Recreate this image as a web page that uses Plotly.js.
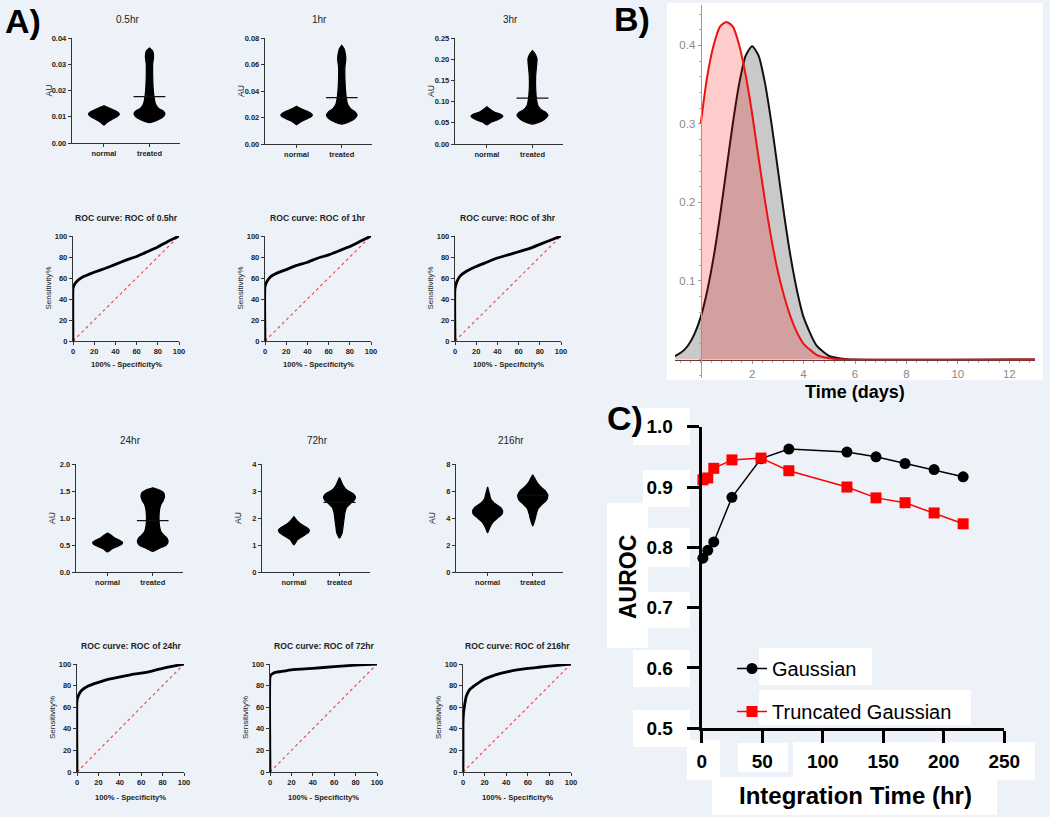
<!DOCTYPE html>
<html><head><meta charset="utf-8">
<script src="https://cdn.plot.ly/plotly-3.0.1.min.js"></script>
<style>html,body{margin:0;padding:0;background:#edf2f9}</style>
</head><body><div id="chart" style="width:1050px;height:817px"></div>
<script>
// ================= DATA =================
// Panel A – swarm plots
const swarmTitles = ['0.5hr', '1hr', '3hr', '24hr', '72hr', '216hr'];
const groupLabels = ['normal', 'treated'];
const swarmTickVals = [[0, 0.01, 0.02, 0.03, 0.04], [0, 0.02, 0.04, 0.06, 0.08], [0, 0.05, 0.10, 0.15, 0.20, 0.25],
                       [0, 0.5, 1.0, 1.5, 2.0], [0, 1, 2, 3, 4], [0, 2, 4, 6, 8]];
const treatedMeans = [0.0177, 0.035, 0.108, 0.95, 2.58, 5.7];
// silhouettes: AU levels and half-widths (category units)
const n05Y = [0.0068, 0.0080, 0.0092, 0.0102, 0.0110, 0.0118, 0.0128, 0.0136, 0.0142];
const n05W = [0, 0.08, 0.20, 0.30, 0.34, 0.30, 0.18, 0.08, 0];
const t05Y = [0.0078, 0.0088, 0.0100, 0.0112, 0.0122, 0.0132, 0.0150, 0.0175, 0.0210, 0.0260, 0.0300, 0.0330, 0.0350, 0.0362];
const t05W = [0, 0.18, 0.30, 0.34, 0.30, 0.20, 0.13, 0.10, 0.08, 0.07, 0.07, 0.09, 0.07, 0];
const n1Y = [0.0145, 0.0165, 0.0185, 0.0205, 0.0218, 0.0235, 0.0255, 0.0272, 0.0285];
const n1W = [0, 0.08, 0.20, 0.32, 0.35, 0.30, 0.18, 0.07, 0];
const t1Y = [0.0150, 0.0170, 0.0195, 0.0218, 0.0240, 0.0265, 0.030, 0.035, 0.042, 0.050, 0.058, 0.064, 0.068, 0.072, 0.0745];
const t1W = [0, 0.18, 0.30, 0.34, 0.30, 0.20, 0.13, 0.10, 0.08, 0.07, 0.07, 0.09, 0.08, 0.05, 0];
const n3Y = [0.045, 0.052, 0.058, 0.063, 0.066, 0.070, 0.076, 0.082, 0.088];
const n3W = [0, 0.10, 0.25, 0.33, 0.35, 0.30, 0.15, 0.07, 0];
const t3Y = [0.047, 0.054, 0.062, 0.068, 0.074, 0.080, 0.090, 0.105, 0.13, 0.16, 0.185, 0.20, 0.21, 0.22];
const t3W = [0, 0.20, 0.30, 0.34, 0.30, 0.20, 0.12, 0.09, 0.07, 0.07, 0.09, 0.10, 0.07, 0];
const n24Y = [0.37, 0.43, 0.48, 0.52, 0.55, 0.59, 0.64, 0.69, 0.72];
const n24W = [0, 0.10, 0.24, 0.32, 0.33, 0.26, 0.14, 0.06, 0];
const t24Y = [0.38, 0.44, 0.50, 0.56, 0.62, 0.68, 0.75, 0.85, 0.95, 1.05, 1.15, 1.25, 1.32, 1.40, 1.47, 1.52, 1.56];
const t24W = [0, 0.15, 0.30, 0.34, 0.32, 0.25, 0.18, 0.15, 0.14, 0.14, 0.15, 0.18, 0.23, 0.26, 0.24, 0.15, 0];
const n72Y = [1.0, 1.2, 1.35, 1.47, 1.55, 1.65, 1.78, 1.92, 2.05];
const n72W = [0, 0.08, 0.22, 0.32, 0.34, 0.28, 0.15, 0.06, 0];
const t72Y = [1.25, 1.45, 1.7, 1.95, 2.2, 2.4, 2.55, 2.65, 2.75, 2.85, 2.95, 3.05, 3.2, 3.35, 3.5];
const t72W = [0, 0.06, 0.08, 0.10, 0.12, 0.16, 0.25, 0.32, 0.35, 0.33, 0.25, 0.15, 0.08, 0.04, 0];
const n216Y = [2.9, 3.3, 3.7, 4.0, 4.3, 4.55, 4.8, 5.1, 5.4, 5.8, 6.3];
const n216W = [0, 0.05, 0.12, 0.22, 0.32, 0.33, 0.28, 0.15, 0.07, 0.04, 0];
const t216Y = [3.4, 3.9, 4.3, 4.7, 5.0, 5.3, 5.55, 5.8, 6.05, 6.3, 6.6, 6.9, 7.2];
const t216W = [0, 0.05, 0.08, 0.12, 0.20, 0.30, 0.33, 0.32, 0.27, 0.18, 0.10, 0.05, 0];

// Panel A – ROC curves (100% - Specificity%, Sensitivity%)
const roc05X = [0, 0, 1, 3, 6, 10, 15, 20, 30, 40, 50, 60, 70, 80, 90, 100];
const roc05Y = [0, 50, 53, 56, 59, 61.5, 63.5, 65.5, 69, 73, 77, 80.5, 85, 89.5, 95, 100];
const roc1X = [0, 0, 2, 5, 10, 20, 30, 40, 50, 60, 70, 80, 90, 100];
const roc1Y = [0, 52, 57, 61, 64, 68, 72, 75, 79, 82, 86, 90, 95, 100];
const roc3X = [0, 0, 2, 5, 10, 20, 30, 40, 50, 60, 70, 80, 90, 100];
const roc3Y = [0, 50, 57, 62, 66, 71, 75, 79, 82, 85, 88, 92, 96, 100];
const roc24X = [0, 0, 1, 3, 6, 10, 20, 30, 40, 50, 60, 70, 80, 90, 100];
const roc24Y = [0, 66, 70, 74, 77, 79.5, 83, 86, 88, 90, 91.5, 93.5, 96, 98, 100];
const roc72X = [0, 0, 1, 3, 6, 10, 20, 40, 60, 80, 100];
const roc72Y = [0, 88, 90, 91.5, 92.5, 93, 94.5, 96, 97.5, 99, 100];
const roc216X = [0, 0, 0.5, 1.5, 3, 6, 10, 15, 20, 30, 40, 50, 60, 70, 80, 90, 100];
const roc216Y = [0, 45, 55, 62, 70, 76, 79.5, 83, 86, 90, 92.5, 94.5, 96, 97, 98, 99, 100];
const chanceX = [0, 100];
const chanceY = [0, 100];

// Panel B – densities
const gaussT = [-1, -0.75, -0.5, -0.25, 0, 0.25, 0.5, 0.75, 1, 1.25, 1.5, 1.75, 2, 2.25, 2.5, 2.75, 3, 3.25, 3.5, 3.75, 4, 4.5, 5, 5.5, 6, 13];
const gaussV = [0.0044, 0.0091, 0.0175, 0.032, 0.054, 0.087, 0.13, 0.183, 0.242, 0.301, 0.352, 0.387, 0.399, 0.387, 0.352, 0.301, 0.242, 0.183, 0.13, 0.087, 0.054, 0.018, 0.0044, 0.001, 0, 0];
const truncT = [0, 0.25, 0.5, 0.75, 1, 1.25, 1.5, 1.75, 2, 2.25, 2.5, 2.75, 3, 3.25, 3.5, 3.75, 4, 4.5, 5, 5.5, 13];
const truncV = [0.30, 0.36, 0.40, 0.424, 0.43, 0.424, 0.40, 0.362, 0.313, 0.257, 0.202, 0.153, 0.112, 0.08, 0.054, 0.034, 0.02, 0.006, 0.0015, 0, 0];

// Panel C – AUROC vs integration time
const intTime = [1, 5, 10, 25, 49, 72, 120, 144, 168, 192, 216];
const aurocGauss = [0.782, 0.795, 0.809, 0.883, 0.947, 0.963, 0.958, 0.950, 0.939, 0.929, 0.917];
const aurocTrunc = [0.912, 0.915, 0.931, 0.945, 0.948, 0.927, 0.900, 0.882, 0.874, 0.857, 0.839];

// ================= LAYOUT HELPERS =================
const W = 1050, H = 817;
const fx = p => p / W;
const fy = p => 1 - p / H;
const FONT = 'Liberation Sans, Arial, sans-serif';
const TXT = '#222';

const swarmN = [[n05Y, n05W], [n1Y, n1W], [n3Y, n3W], [n24Y, n24W], [n72Y, n72W], [n216Y, n216W]];
const swarmT = [[t05Y, t05W], [t1Y, t1W], [t3Y, t3W], [t24Y, t24W], [t72Y, t72W], [t216Y, t216W]];
const rocX = [roc05X, roc1X, roc3X, roc24X, roc72X, roc216X];
const rocY = [roc05Y, roc1Y, roc3Y, roc24Y, roc72Y, roc216Y];

// [x0, x1, yTop, yBottom] in px
const swarmBox = [[72,180,38,143],[265,372,38,144],[455,563,38,144],[76,183,464,572],[262,370,464,572],[456,563,464,572]];
const rocBox = [[73,179,236,341],[265,371,236,341],[455,561,236,341],[77,184,664,772],[270,377,664,772],[463,571,664,772]];
const swarmFmt = ['.2f', '.2f', '.2f', '.1f', 'd', 'd'];
const swarmTitleY = [20, 20, 20, 440, 440, 440];
const rocTitleY = [218, 218, 218, 646, 646, 646];
const rocXTitleY = [365, 365, 365, 797, 797, 797];

const traces = [];
const layout = {
  width: W, height: H,
  margin: {l: 0, r: 0, t: 0, b: 0, pad: 0},
  paper_bgcolor: '#edf2f9',
  plot_bgcolor: 'rgba(0,0,0,0)',
  font: {family: FONT, color: TXT},
  showlegend: true,
  annotations: [],
  shapes: []
};
function ax(n) { return n === 1 ? '' : String(n); }
function ann(text, px, py, size, extra) {
  layout.annotations.push(Object.assign({
    text: text, xref: 'paper', yref: 'paper', x: fx(px), y: fy(py),
    xanchor: 'center', yanchor: 'middle', showarrow: false,
    font: {family: FONT, size: size, color: TXT}
  }, extra || {}));
}
function whiteBox(x0, y0, x1, y1) {
  layout.shapes.push({type: 'rect', xref: 'paper', yref: 'paper', layer: 'below',
    x0: fx(x0), x1: fx(x1), y0: fy(y1), y1: fy(y0), fillcolor: '#ffffff', line: {width: 0}});
}
const smallAxis = {
  showgrid: false, zeroline: false, showline: true, linecolor: '#333', linewidth: 1.2,
  ticks: 'outside', ticklen: 3, tickwidth: 1, tickcolor: '#333',
  tickfont: {family: FONT, size: 7.5, color: TXT, weight: 'bold'}, fixedrange: true
};

// ---- Panel A swarms ----
function blob(c, ys, ws) {
  const x = [], y = [];
  for (let i = 0; i < ys.length; i++) { x.push(c - ws[i]); y.push(ys[i]); }
  for (let i = ys.length - 1; i >= 0; i--) { x.push(c + ws[i]); y.push(ys[i]); }
  return {x, y};
}
for (let i = 0; i < 6; i++) {
  const n = i + 1, b = swarmBox[i];
  [[0, swarmN[i]], [1, swarmT[i]]].forEach(([c, prof]) => {
    const p = blob(c, prof[0], prof[1]);
    traces.push({type: 'scatter', mode: 'lines', x: p.x, y: p.y, fill: 'toself', fillcolor: '#000',
      line: {color: '#000', width: 1.2, shape: 'spline', smoothing: 0.5},
      xaxis: 'x' + ax(n), yaxis: 'y' + ax(n), showlegend: false, hoverinfo: 'skip'});
  });
  traces.push({type: 'scatter', mode: 'lines', x: [1 - 0.35, 1 + 0.35], y: [treatedMeans[i], treatedMeans[i]],
    line: {color: '#111', width: 1.2}, xaxis: 'x' + ax(n), yaxis: 'y' + ax(n), showlegend: false, hoverinfo: 'skip'});
  const tv = swarmTickVals[i];
  layout['xaxis' + ax(n)] = Object.assign({}, smallAxis, {
    domain: [fx(b[0]), fx(b[1])], range: [-0.7, 1.67], anchor: 'y' + ax(n),
    tickvals: [0, 1], ticktext: groupLabels});
  layout['yaxis' + ax(n)] = Object.assign({}, smallAxis, {
    domain: [fy(b[3]), fy(b[2])], range: [0, tv[tv.length - 1]], anchor: 'x' + ax(n),
    tickvals: tv, tickformat: swarmFmt[i]});
  ann(swarmTitles[i], (b[0] + b[1]) / 2 + 1, swarmTitleY[i], 10);
  ann('AU', b[0] - 24, (b[2] + b[3]) / 2, 8.5, {textangle: -90});
}

// ---- Panel A ROC ----
for (let i = 0; i < 6; i++) {
  const n = i + 7, b = rocBox[i];
  traces.push({type: 'scatter', mode: 'lines', x: chanceX, y: chanceY,
    line: {color: '#e8505a', width: 1.2, dash: 'dot'}, xaxis: 'x' + ax(n), yaxis: 'y' + ax(n),
    showlegend: false, hoverinfo: 'skip', cliponaxis: false});
  traces.push({type: 'scatter', mode: 'lines', x: rocX[i], y: rocY[i],
    line: {color: '#000', width: 2.8, shape: 'spline', smoothing: 0.4}, xaxis: 'x' + ax(n), yaxis: 'y' + ax(n),
    showlegend: false, hoverinfo: 'skip', cliponaxis: false});
  layout['xaxis' + ax(n)] = Object.assign({}, smallAxis, {
    domain: [fx(b[0]), fx(b[1])], range: [0, 100], anchor: 'y' + ax(n), dtick: 20, tick0: 0});
  layout['yaxis' + ax(n)] = Object.assign({}, smallAxis, {
    domain: [fy(b[3]), fy(b[2])], range: [0, 100], anchor: 'x' + ax(n), dtick: 20, tick0: 0});
  ann('ROC curve: ROC of ' + swarmTitles[i], (b[0] + b[1]) / 2, rocTitleY[i], 8.6, {font: {family: FONT, size: 8.6, color: TXT, weight: 'bold'}});
  ann('100% - Specificity%', (b[0] + b[1]) / 2, rocXTitleY[i], 7.6, {font: {family: FONT, size: 7.6, color: TXT, weight: 'bold'}});
  ann('Sensitivity%', b[0] - 25, (b[2] + b[3]) / 2, 8, {textangle: -90});
}

// ---- Panel B ----
whiteBox(667, 3, 1043, 380);
traces.push({type: 'scatter', mode: 'lines', x: gaussT, y: gaussV, fill: 'tozeroy', fillcolor: 'rgba(0,0,0,0.21)',
  line: {color: '#111', width: 2, shape: 'spline', smoothing: 0.6}, xaxis: 'x13', yaxis: 'y13', showlegend: false, hoverinfo: 'skip'});
traces.push({type: 'scatter', mode: 'lines', x: truncT, y: truncV, fill: 'tozeroy', fillcolor: 'rgba(255,0,0,0.2)',
  line: {color: '#ee1111', width: 2, shape: 'spline', smoothing: 0.6}, xaxis: 'x13', yaxis: 'y13', showlegend: false, hoverinfo: 'skip'});
const bTick = {family: FONT, size: 11.5, color: '#8a8a8a'};
layout.xaxis13 = {domain: [fx(675), fx(1035)], range: [-1, 13], anchor: 'free', position: fy(359.5),
  showgrid: false, zeroline: false, showline: true, linecolor: '#7a3535', linewidth: 1.6,
  tickvals: [2, 4, 6, 8, 10, 12], ticks: 'outside', ticklen: 3, tickcolor: '#999', tickfont: bTick,
  minor: {dtick: 0.4, tick0: 0, ticks: 'outside', ticklen: 2, tickcolor: '#aaa', showgrid: false}, fixedrange: true};
layout.yaxis13 = {domain: [fy(378), fy(5)], range: [-0.0236, 0.4515], anchor: 'free', position: fx(700.6),
  showgrid: false, zeroline: false, showline: true, linecolor: '#999', linewidth: 1,
  tickvals: [0.1, 0.2, 0.3, 0.4], ticks: 'outside', ticklen: 3, tickcolor: '#999', tickfont: bTick,
  minor: {dtick: 0.02, tick0: 0, ticks: 'outside', ticklen: 2, tickcolor: '#aaa', showgrid: false}, fixedrange: true};
ann('Time (days)', 855, 392, 18, {font: {family: FONT, size: 18, color: '#000', weight: 'bold'}});

// ---- Panel C ----
[[633,408,690,445],[643,470,690,507],[607,503,648,648],[648,528,690,567],[648,592,690,628],[633,650,690,687],
 [633,710,690,747],[759,648,872,685],[759,690,971,725],[687,740,720,780],[738,743,788,772],[793,742,1035,780],
 [712,777,997,815]].forEach(r => whiteBox(r[0], r[1], r[2], r[3]));
traces.push({type: 'scatter', mode: 'lines+markers', name: 'Gaussian', legendgroup: 'g1', x: intTime, y: aurocGauss,
  line: {color: '#000', width: 1.5}, marker: {symbol: 'circle', size: 11, color: '#000'},
  xaxis: 'x14', yaxis: 'y14', cliponaxis: false, hoverinfo: 'skip'});
traces.push({type: 'scatter', mode: 'lines+markers', name: 'Truncated Gaussian', legendgroup: 'g2', x: intTime, y: aurocTrunc,
  line: {color: '#ff0000', width: 1.5}, marker: {symbol: 'square', size: 11, color: '#ff0000'},
  xaxis: 'x14', yaxis: 'y14', cliponaxis: false, hoverinfo: 'skip'});
const cTick = {family: FONT, size: 19, color: '#000', weight: 'bold'};
layout.xaxis14 = {domain: [fx(701.7), fx(1004.3)], range: [0, 250], anchor: 'y14', dtick: 50, tick0: 0,
  showgrid: false, zeroline: false, showline: true, linecolor: '#000', linewidth: 3,
  ticks: 'outside', ticklen: 12, tickwidth: 3, tickcolor: '#000', tickfont: cTick, ticklabelstandoff: 2, fixedrange: true};
layout.yaxis14 = {domain: [fy(728.3), fy(426.7)], range: [0.5, 1.0], anchor: 'x14', dtick: 0.1, tick0: 0.5, tickformat: '.1f',
  showgrid: false, zeroline: false, showline: true, linecolor: '#000', linewidth: 3,
  ticks: 'outside', ticklen: 12, tickwidth: 3, tickcolor: '#000', tickfont: cTick, ticklabelstandoff: 10, fixedrange: true};
layout.legend = {x: fx(732), y: fy(649), xanchor: 'left', yanchor: 'top', bgcolor: 'rgba(0,0,0,0)',
  font: {family: FONT, size: 20, color: '#000'}, tracegroupgap: 14, itemsizing: 'trace'};
ann('AUROC', 628, 577, 23, {textangle: -90, font: {family: FONT, size: 23, color: '#000', weight: 'bold'}});
ann('Integration Time (hr)', 855, 795, 24, {font: {family: FONT, size: 24, color: '#000', weight: 'bold'}});

// ---- Panel letters ----
ann('A)', 3, 21, 34, {xanchor: 'left', font: {family: FONT, size: 34, color: '#000', weight: 'bold'}});
ann('B)', 612, 19, 34, {xanchor: 'left', font: {family: FONT, size: 34, color: '#000', weight: 'bold'}});
ann('C)', 605, 418, 34, {xanchor: 'left', font: {family: FONT, size: 34, color: '#000', weight: 'bold'}});

Plotly.newPlot('chart', traces, layout, {staticPlot: true, displayModeBar: false});
</script></body></html>
